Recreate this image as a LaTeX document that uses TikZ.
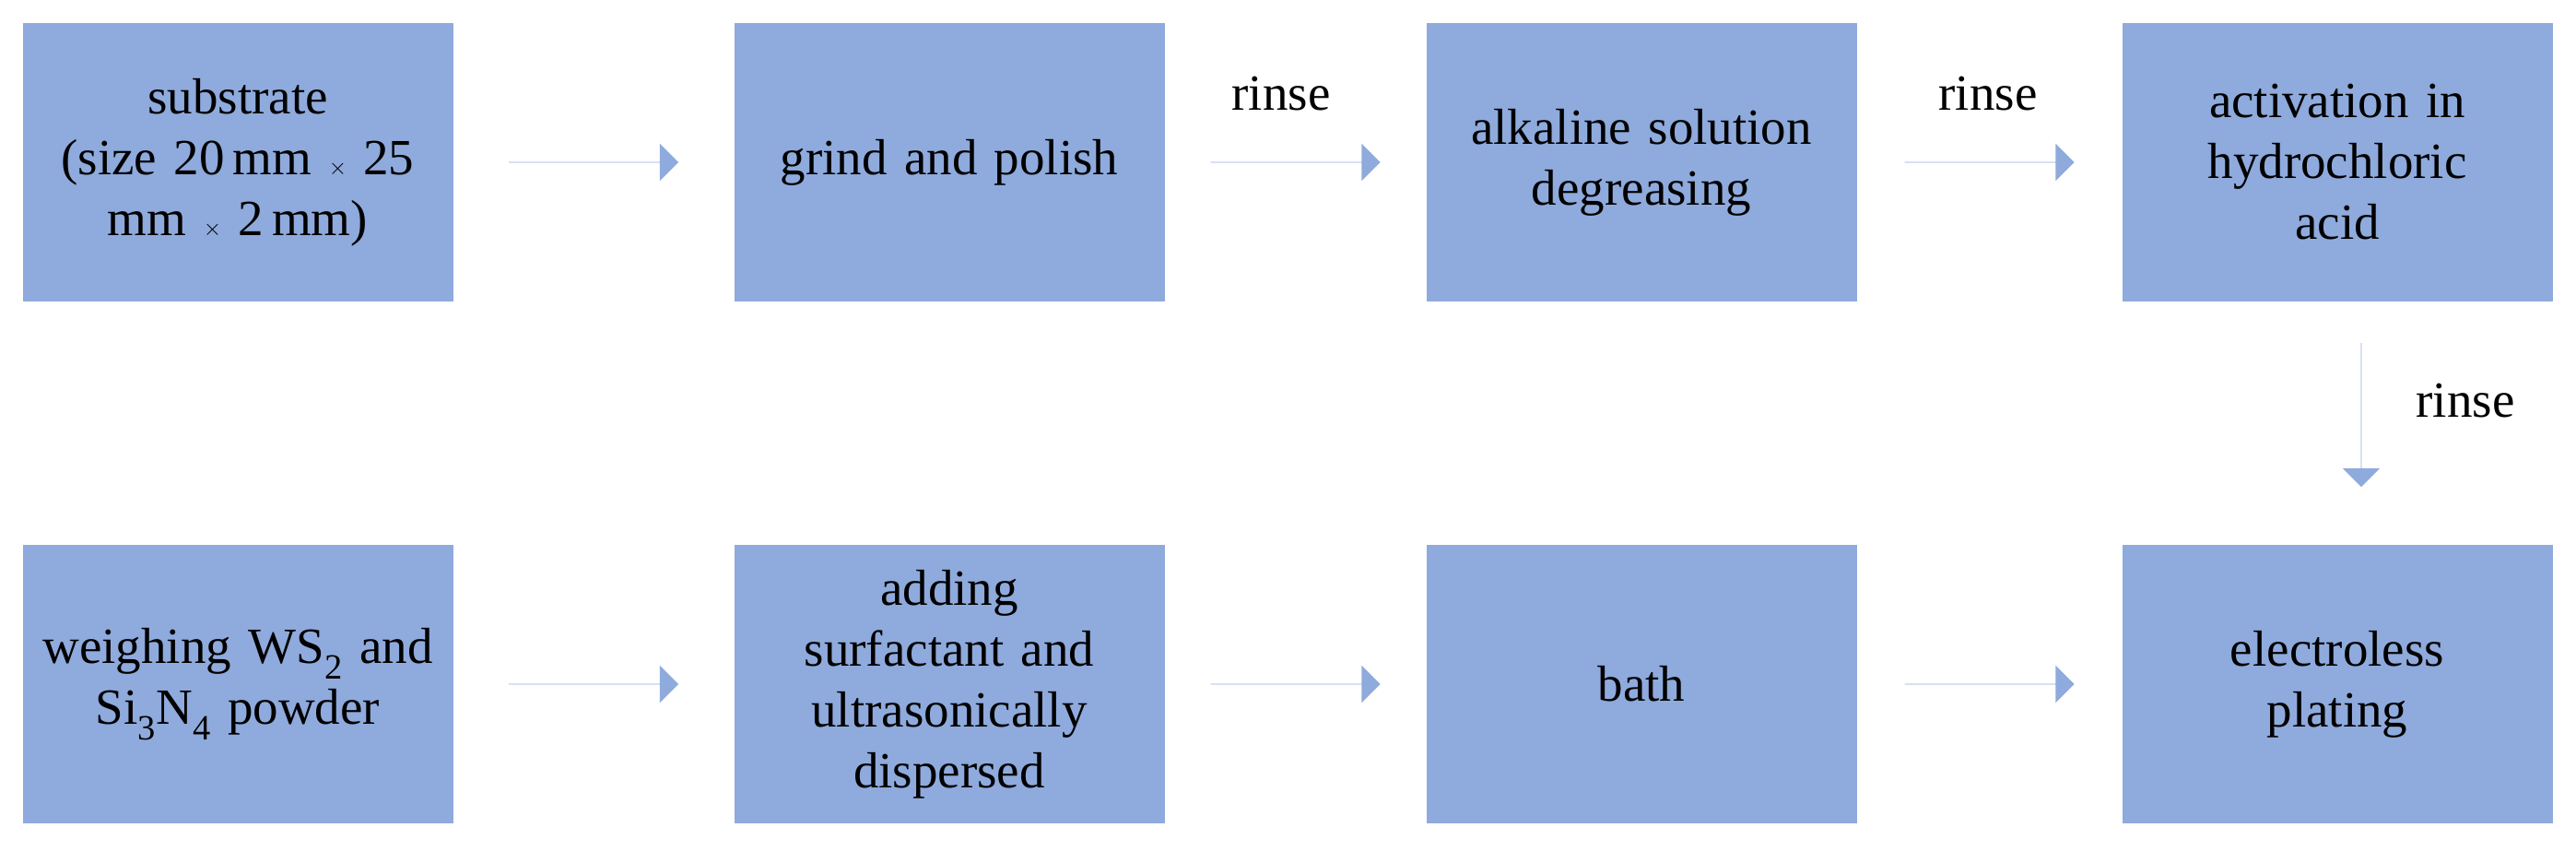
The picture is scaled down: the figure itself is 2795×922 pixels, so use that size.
\documentclass[tikz,border=0pt]{standalone}
\usepackage{fontspec}
\setmainfont{Liberation Serif}
\usetikzlibrary{shapes.arrows,calc}
\definecolor{boxc}{HTML}{8FAADC}
\begin{document}
\begin{tikzpicture}[x=1pt,y=-1pt,
  box/.style={fill=boxc,minimum width=467pt,minimum height=302pt,inner sep=0pt,align=center,text width=440pt,font=\fontsize{55}{66}\selectfont},
  lbl/.style={font=\fontsize{55}{66}\selectfont},
  fat/.style={draw=none,fill=boxc,single arrow,single arrow head extend=20pt,minimum height=184pt,minimum width=38pt,inner sep=0pt,shape border uses incircle}]
\useasboundingbox (0,0) rectangle (2795,922);
\node[box] (b1) at (258,176) {substrate\\(size 20\,mm $\times$ 25\\mm $\times$ 2\,mm)};
\node[box] (b2) at (1030,176) {grind and polish};
\node[box] (b3) at (1781,176) {alkaline solution\\degreasing};
\node[box] (b4) at (2536,176) {activation in\\hydrochloric\\acid};
\node[box] (c1) at (258,742) {weighing WS\textsubscript{2} and\\Si\textsubscript{3}N\textsubscript{4} powder};
\node[box] (c2) at (1030,742) {adding\\surfactant and\\ultrasonically\\dispersed};
\node[box] (c3) at (1781,742) {bath};
\node[box] (c4) at (2536,742) {electroless\\plating};
\node[fat] (a1) at ($(b1.east)!0.5!(b2.west)$) {};
\node[fat] (a2) at ($(b2.east)!0.5!(b3.west)$) {};
\node[fat] (a3) at ($(b3.east)!0.5!(b4.west)$) {};
\node[fat] (d1) at ($(c1.east)!0.5!(c2.west)$) {};
\node[fat] (d2) at ($(c2.east)!0.5!(c3.west)$) {};
\node[fat] (d3) at ($(c3.east)!0.5!(c4.west)$) {};
\node[fat,rotate=-90,minimum height=156pt] (v) at (2562,450) {};
\node[lbl] (r1) at (1390,102) {rinse};
\node[lbl] (r2) at (2157,102) {rinse};
\node[lbl] (r3) at (2675,435) {rinse};
\end{tikzpicture}
\end{document}
